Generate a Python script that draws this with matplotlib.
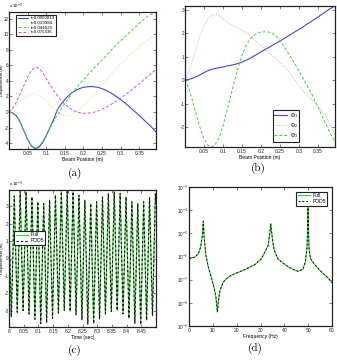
import numpy as np
import matplotlib
matplotlib.use("Agg")
import matplotlib.pyplot as plt
from matplotlib.ticker import FuncFormatter, FixedLocator, LogLocator, NullLocator

plt.rcParams['axes.unicode_minus'] = False
plt.rcParams['font.family'] = ['Liberation Sans', 'DejaVu Sans']
plt.rcParams['mathtext.fontset'] = 'custom'
plt.rcParams['mathtext.rm'] = 'Liberation Sans'
plt.rcParams['mathtext.it'] = 'Liberation Sans:italic'

# ---------------- data ----------------
# (a) displacement snapshots along the beam (units of 1e-3 m)
beam_x = [0.00, 0.01, 0.02, 0.03, 0.04, 0.05, 0.06, 0.07, 0.08, 0.09,
          0.10, 0.11, 0.12, 0.13, 0.14, 0.15, 0.16, 0.17, 0.18, 0.19,
          0.20, 0.21, 0.22, 0.23, 0.24, 0.25, 0.26, 0.27, 0.28, 0.29,
          0.30, 0.31, 0.32, 0.33, 0.34, 0.35, 0.36, 0.37, 0.38, 0.39, 0.395]
disp_t1 = [0, -0.12, -0.5, -1.3, -2.4, -3.5, -4.35, -4.7, -4.55, -3.95,
           -3.05, -2.0, -0.95, 0.3, 1.0, 1.6, 2.1, 2.5, 2.8, 3.02,
           3.17, 3.25, 3.27, 3.24, 3.15, 3.0, 2.8, 2.55, 2.27, 1.95,
           1.6, 1.22, 0.82, 0.4, -0.02, -0.45, -0.9, -1.35, -1.8, -2.3, -2.55]
disp_t2 = [0, 0.3, 0.8, 1.35, 1.8, 2.1, 2.28, 2.3, 2.15, 1.85,
           1.4, 0.9, 0.4, 0.0, -0.3, -0.45, -0.45, -0.3, 0.0, 0.35,
           0.8, 1.3, 1.8, 2.35, 2.9, 3.45, 4.0, 4.55, 5.1, 5.65,
           6.15, 6.65, 7.1, 7.55, 8.0, 8.4, 8.8, 9.15, 9.5, 9.85, 10.0]
disp_t3 = [0, -0.12, -0.5, -1.3, -2.4, -3.5, -4.3, -4.6, -4.4, -3.8,
           -3.0, -2.1, -1.2, -0.4, 0.35, 1.1, 1.8, 2.45, 3.05, 3.6,
           4.15, 4.7, 5.2, 5.7, 6.2, 6.7, 7.2, 7.7, 8.2, 8.7,
           9.15, 9.6, 10.05, 10.5, 10.95, 11.4, 11.8, 12.2, 12.5, 12.75, 12.85]
disp_t4 = [0, 0.5, 1.3, 2.3, 3.4, 4.5, 5.35, 5.75, 5.65, 5.1,
           4.3, 3.5, 2.75, 2.1, 1.5, 1.0, 0.6, 0.3, 0.05, -0.1,
           -0.15, -0.15, -0.1, 0.0, 0.15, 0.35, 0.6, 0.85, 1.15, 1.45,
           1.8, 2.15, 2.5, 2.85, 3.25, 3.65, 4.05, 4.45, 4.85, 5.25, 5.4]
snap_labels = ['t=0.0050813', 't=0.019984', 't=0.044529', 't=0.075336']

# (b) POD modes
phi1 = [0, 0.03, 0.08, 0.15, 0.23, 0.32, 0.4, 0.46, 0.5, 0.53,
        0.56, 0.6, 0.63, 0.67, 0.71, 0.77, 0.84, 0.92, 1.02, 1.11,
        1.21, 1.3, 1.39, 1.49, 1.58, 1.67, 1.77, 1.87, 1.97, 2.07,
        2.17, 2.27, 2.38, 2.48, 2.59, 2.7, 2.81, 2.92, 3.03, 3.13, 3.17]
phi2 = [0, 0.35, 0.85, 1.4, 1.9, 2.3, 2.6, 2.77, 2.81, 2.75,
        2.62, 2.5, 2.4, 2.3, 2.2, 2.12, 2.04, 1.9, 1.76, 1.62,
        1.48, 1.34, 1.2, 1.05, 0.9, 0.75, 0.6, 0.42, 0.23, 0.0,
        -0.25, -0.45, -0.62, -0.78, -0.93, -1.1, -1.3, -1.55, -1.85, -2.15, -2.3]
phi3 = [0, -0.35, -0.9, -1.5, -2.05, -2.5, -2.78, -2.86, -2.75, -2.45,
        -1.95, -1.35, -0.7, -0.05, 0.55, 1.05, 1.45, 1.73, 1.9, 2.0,
        2.05, 2.07, 2.06, 2.0, 1.88, 1.7, 1.45, 1.2, 0.95, 0.68,
        0.4, 0.1, -0.2, -0.48, -0.8, -1.15, -1.5, -1.85, -2.2, -2.5, -2.65]
mode_labels = [r'$\Phi_1$', r'$\Phi_2$', r'$\Phi_3$']

# (c) time response: successive extremes (units of 1e-3 m)
time_ext = [8.000, 8.008, 8.018, 8.028, 8.038, 8.048, 8.058, 8.068, 8.078, 8.088,
            8.098, 8.108, 8.118, 8.128, 8.138, 8.148, 8.158, 8.168, 8.178, 8.188,
            8.198, 8.208, 8.218, 8.228, 8.238, 8.248, 8.258, 8.268, 8.278, 8.288,
            8.298, 8.308, 8.318, 8.328, 8.338, 8.348, 8.358, 8.368, 8.378, 8.388,
            8.398, 8.408, 8.418, 8.428, 8.438, 8.448, 8.458, 8.468, 8.478, 8.488,
            8.498, 8.500]
full_ext = [2.0, -3.37, 3.6, -3.1, 3.85, -3.0, 3.85, -3.2, 3.55, -3.5,
            3.27, -3.75, 3.17, -3.7, 3.37, -3.45, 3.65, -3.15, 3.85, -3.0,
            3.94, -3.05, 3.85, -3.25, 3.65, -3.55, 3.37, -3.8, 3.17, -3.75,
            3.27, -3.5, 3.55, -3.2, 3.75, -3.05, 3.85, -3.0, 3.75, -3.2,
            3.55, -3.45, 3.27, -3.75, 3.17, -3.8, 3.27, -3.55, 3.5, -3.3,
            3.75, 3.2]
pod_ext = full_ext

# (d) frequency response
freq = [0, 2.5, 3.9, 4.9, 5.6, 6.0, 6.4, 7.1, 8.1, 9.5,
        10.6, 11.3, 11.9, 12.3, 13.0, 14.4, 16.5, 19.2, 23.4, 27.6,
        30.4, 33.2, 33.9, 34.3, 34.9, 35.7, 37.4, 40.2, 43.0, 45.7,
        47.8, 48.8, 49.5, 49.8, 49.95, 50.1, 50.35, 51.0, 52.7, 55.5,
        58.3, 60.0]
resp = [7.9e-7, 9.5e-7, 1.3e-6, 2.6e-6, 8e-6, 3.3e-5, 6e-6, 1.1e-6, 3.5e-7, 1.1e-7,
        4.1e-8, 1.8e-8, 4e-9, 1.1e-8, 3.5e-8, 8e-8, 1.3e-7, 1.8e-7, 2.7e-7, 4.5e-7,
        8e-7, 3e-6, 1e-5, 2.6e-5, 7e-6, 1.9e-6, 7.6e-7, 4.5e-7, 3e-7, 2.3e-7,
        2.8e-7, 5.8e-7, 2.2e-6, 2.2e-5, 5e-4, 2.2e-5, 2.2e-6, 8e-7, 4.5e-7, 2.2e-7,
        1.2e-7, 7.4e-8]
resp_pod = resp

# ---------------- styling ----------------
W, H = 337, 362
fig = plt.figure(figsize=(W / 100, H / 100), dpi=100)

def box(l, r, t, b):
    return [l / W, 1 - b / H, (r - l) / W, (b - t) / H]

FS = 3.6
BLUE = '#4646d8'
GREEN = '#3ccf3c'
YEL = '#d6d66a'
MAG = '#e048e0'
PINK = '#e89090'

def style(ax):
    for s in ax.spines.values():
        s.set_linewidth(0.9)
        s.set_color('#222222')
    ax.tick_params(direction='in', length=2, width=0.4, labelsize=FS, pad=1.2,
                   top=True, right=True, colors='#222222')
    ax.tick_params(axis='y', labelsize=3.3, pad=0.4)

gfmt = FuncFormatter(lambda v, p: '%g' % v)
mfmt = FuncFormatter(lambda v, p: '%g' % round(v * 1e3, 6))
YLX = -0.0463

# (a)
axa = fig.add_axes(box(9, 156, 12, 149))
bx = np.array(beam_x)
axa.plot(bx, np.array(disp_t1) * 1e-3, '-', color=BLUE, lw=0.8, label=snap_labels[0])
axa.plot(bx, np.array(disp_t2) * 1e-3, ':', color=YEL, lw=0.6, label=snap_labels[1])
axa.plot(bx, np.array(disp_t3) * 1e-3, '--', color=GREEN, lw=0.7, dashes=(3, 2), label=snap_labels[2])
axa.plot(bx, np.array(disp_t4) * 1e-3, '--', color=MAG, lw=0.7, dashes=(3, 2), label=snap_labels[3])
axa.set_xlim(0, 0.395)
axa.set_ylim(-4.75e-3, 12.85e-3)
axa.xaxis.set_major_locator(FixedLocator([0.05, 0.1, 0.15, 0.2, 0.25, 0.3, 0.35]))
axa.yaxis.set_major_locator(FixedLocator([v * 1e-3 for v in (-4, -2, 0, 2, 4, 6, 8, 10, 12)]))
axa.xaxis.set_major_formatter(gfmt)
axa.yaxis.set_major_formatter(mfmt)
axa.set_xlabel('Beam Position (m)', fontsize=FS, labelpad=1)
axa.set_ylabel('Displacement (m)', fontsize=2.9, va='center')
axa.yaxis.set_label_coords(YLX, 0.5)
axa.text(0.0, 1.01, r'x 10$^{-3}$', transform=axa.transAxes, fontsize=3.2, ha='left', va='bottom')
style(axa)
leg = axa.legend(loc='upper left', bbox_to_anchor=(0.035, 0.995), fontsize=3.2,
                 handlelength=2.4, handletextpad=0.5, borderpad=0.3, labelspacing=0.12,
                 fancybox=False, edgecolor='#222222', framealpha=1)
leg.get_frame().set_linewidth(0.8)

# (b)
axb = fig.add_axes(box(185, 335, 6, 147))
axb.plot(bx, phi1, '-', color=BLUE, lw=0.8, label=mode_labels[0])
axb.plot(bx, phi2, ':', color=PINK, lw=0.6, label=mode_labels[1])
axb.plot(bx, phi3, '--', color=GREEN, lw=0.7, dashes=(3, 2), label=mode_labels[2])
axb.set_xlim(0, 0.395)
axb.set_ylim(-2.86, 3.17)
axb.xaxis.set_major_locator(FixedLocator([0.05, 0.1, 0.15, 0.2, 0.25, 0.3, 0.35]))
axb.yaxis.set_major_locator(FixedLocator([-2, -1, 0, 1, 2, 3]))
axb.xaxis.set_major_formatter(gfmt)
axb.yaxis.set_major_formatter(gfmt)
axb.set_xlabel('Beam Position (m)', fontsize=FS, labelpad=1)
style(axb)
leg = axb.legend(loc='lower right', bbox_to_anchor=(0.78, 0.02), fontsize=3.8,
                 handlelength=2.4, handletextpad=0.5, borderpad=0.3, labelspacing=0.2,
                 fancybox=False, edgecolor='#222222', framealpha=1)
leg.get_frame().set_linewidth(0.8)

# (c)
axc = fig.add_axes(box(9, 156, 190, 327))
axc.plot(time_ext, np.array(full_ext) * 1e-3, '-', color=GREEN, lw=0.8, label='Full')
axc.plot(time_ext, np.array(pod_ext) * 1e-3, '--', color='#111111', lw=0.8, dashes=(2, 2), label='POD5')
axc.set_xlim(8, 8.5)
axc.set_ylim(-3.95e-3, 3.95e-3)
axc.xaxis.set_major_locator(FixedLocator([8, 8.05, 8.1, 8.15, 8.2, 8.25, 8.3, 8.35, 8.4, 8.45]))
axc.yaxis.set_major_locator(FixedLocator([v * 1e-3 for v in (-3, -2, -1, 0, 1, 2, 3)]))
axc.xaxis.set_major_formatter(FuncFormatter(lambda v, p: '%g' % round(v, 4)))
axc.yaxis.set_major_formatter(mfmt)
axc.set_xlabel('Time (sec)', fontsize=FS, labelpad=1)
axc.set_ylabel('Displacement (m)', fontsize=2.9, va='center')
axc.yaxis.set_label_coords(YLX, 0.5)
axc.text(0.0, 1.01, r'x 10$^{-3}$', transform=axc.transAxes, fontsize=3.2, ha='left', va='bottom')
style(axc)
leg = axc.legend(loc='center left', bbox_to_anchor=(0.02, 0.65), fontsize=3.6,
                 handlelength=2.4, handletextpad=0.5, borderpad=0.3, labelspacing=0.2,
                 fancybox=False, edgecolor='#222222', framealpha=1)
leg.get_frame().set_linewidth(0.8)

# (d)
axd = fig.add_axes(box(189, 332, 187, 326))
axd.semilogy(freq, resp, '-', color=GREEN, lw=0.8, label='Full')
axd.semilogy(freq, resp_pod, '--', color='#111111', lw=0.7, dashes=(2, 2), label='POD5')
axd.set_xlim(0, 60)
axd.set_ylim(1e-9, 1e-3)
axd.xaxis.set_major_locator(FixedLocator([0, 10, 20, 30, 40, 50, 60]))
axd.xaxis.set_major_formatter(gfmt)
axd.yaxis.set_major_locator(LogLocator(base=10, numticks=10))
axd.yaxis.set_minor_locator(NullLocator())
axd.set_xlabel('Frequency (Hz)', fontsize=FS, labelpad=1)
style(axd)
axd.tick_params(axis='y', pad=1.0)
leg = axd.legend(loc='upper right', bbox_to_anchor=(0.985, 0.985), fontsize=3.6,
                 handlelength=2.4, handletextpad=0.5, borderpad=0.3, labelspacing=0.2,
                 fancybox=False, edgecolor='#222222', framealpha=1)
leg.get_frame().set_linewidth(0.8)

# captions
cap_font = dict(fontsize=8, family=['cmr10', 'DejaVu Serif'], ha='center', va='center')
fig.text(75 / W, 1 - 173 / H, '(a)', **cap_font)
fig.text(258 / W, 1 - 168 / H, '(b)', **cap_font)
fig.text(75 / W, 1 - 350 / H, '(c)', **cap_font)
fig.text(255 / W, 1 - 348 / H, '(d)', **cap_font)

fig.savefig('out.png', dpi=100)
